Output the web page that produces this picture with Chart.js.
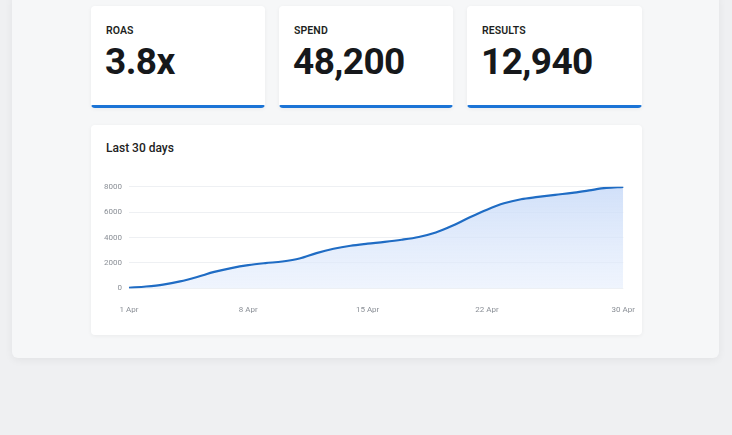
<!DOCTYPE html>
<html>
<head>
<meta charset="utf-8">
<script src="https://cdn.jsdelivr.net/npm/chart.js@4.4.1/dist/chart.umd.min.js"></script>
<style>
  html, body { margin: 0; padding: 0; }
  body { width: 732px; height: 435px; background: #eff0f2; font-family: Roboto, "Noto Sans", sans-serif; position: relative; overflow: hidden; }
  .panel { position: absolute; left: 12px; top: -6px; width: 707px; height: 364px; background: #f6f7f8; border-radius: 6px; box-shadow: 0 2px 8px rgba(0,0,0,0.06); }
  .card { position: absolute; top: 6px; height: 102px; background: #fff; border-radius: 4px; box-shadow: 0 1px 4px rgba(0,0,0,0.05); overflow: hidden; }
  .card .lbl { position: absolute; left: 15px; top: 18px; font-size: 10.5px; font-weight: 600; color: #1d1f22; letter-spacing: 0.1px; }
  .card .val { position: absolute; left: 14px; top: 34px; font-size: 37px; font-weight: 700; color: #16181b; letter-spacing: -0.6px; }
  .card .bar { position: absolute; left: 0; right: 0; bottom: 0; height: 3px; background: #1b74d6; border-radius: 2px; }
  .chartcard { position: absolute; left: 91px; top: 125px; width: 551px; height: 210px; background: #fff; border-radius: 4px; box-shadow: 0 1px 4px rgba(0,0,0,0.05); }
  .chartcard .title { position: absolute; left: 15px; top: 16px; font-size: 12px; font-weight: 500; color: #222; }
  .chartwrap { position: absolute; left: 6px; top: 50px; width: 547px; height: 149px; }
</style>
</head>
<body>
<div class="panel"></div>
<div class="card" style="left:91px;width:174px"><div class="lbl">ROAS</div><div class="val">3.8x</div><div class="bar"></div></div>
<div class="card" style="left:279px;width:174px"><div class="lbl">SPEND</div><div class="val">48,200</div><div class="bar"></div></div>
<div class="card" style="left:467px;width:175px"><div class="lbl">RESULTS</div><div class="val">12,940</div><div class="bar"></div></div>
<div class="chartcard">
  <div class="title">Last 30 days</div>
  <div class="chartwrap"><canvas id="c"></canvas></div>
</div>
<script>
const days = ["1 Apr","2 Apr","3 Apr","4 Apr","5 Apr","6 Apr","7 Apr","8 Apr","9 Apr","10 Apr",
  "11 Apr","12 Apr","13 Apr","14 Apr","15 Apr","16 Apr","17 Apr","18 Apr","19 Apr","20 Apr",
  "21 Apr","22 Apr","23 Apr","24 Apr","25 Apr","26 Apr","27 Apr","28 Apr","29 Apr","30 Apr"];
const values = [50,150,300,550,900,1300,1600,1830,1990,2120,
  2350,2780,3120,3360,3520,3660,3830,4050,4400,4950,
  5600,6200,6700,7020,7200,7370,7520,7720,7910,8000];
const xTickIndexes = [0,7,14,21,29];
const yTicks = [0,2000,4000,6000,8000];

const ctx = document.getElementById('c').getContext('2d');
const grad = ctx.createLinearGradient(0, 10, 0, 112);
grad.addColorStop(0, 'rgba(200,218,248,0.85)');
grad.addColorStop(1, 'rgba(228,237,252,0.6)');

new Chart(ctx, {
  type: 'line',
  data: {
    labels: days,
    datasets: [{
      data: values,
      borderColor: '#1f6cc4',
      borderWidth: 2.2,
      backgroundColor: grad,
      fill: 'origin',
      tension: 0.4,
      pointRadius: 0,
      cubicInterpolationMode: 'monotone'
    }]
  },
  options: {
    responsive: true,
    maintainAspectRatio: false,
    animation: false,
    layout: { padding: { left: 0, right: 1, top: 4, bottom: 0 } },
    plugins: { legend: { display: false }, tooltip: { enabled: false } },
    scales: {
      x: {
        grid: { display: false },
        border: { display: false },
        ticks: {
          autoSkip: false, maxRotation: 0, color: '#8a8f96', font: { size: 8, family: 'Roboto' }, padding: 9,
          callback: (v, i) => xTickIndexes.includes(i) ? days[i] : ''
        }
      },
      y: {
        min: 0, max: 8000,
        afterBuildTicks: ax => { ax.ticks = yTicks.map(v => ({ value: v })); },
        grid: { color: '#eef0f3', lineWidth: 1, drawTicks: false },
        border: { display: false },
        ticks: { color: '#8a8f96', font: { size: 8, family: 'Roboto' }, padding: 7, callback: v => String(v) }
      }
    }
  }
});
</script>
</body>
</html>
